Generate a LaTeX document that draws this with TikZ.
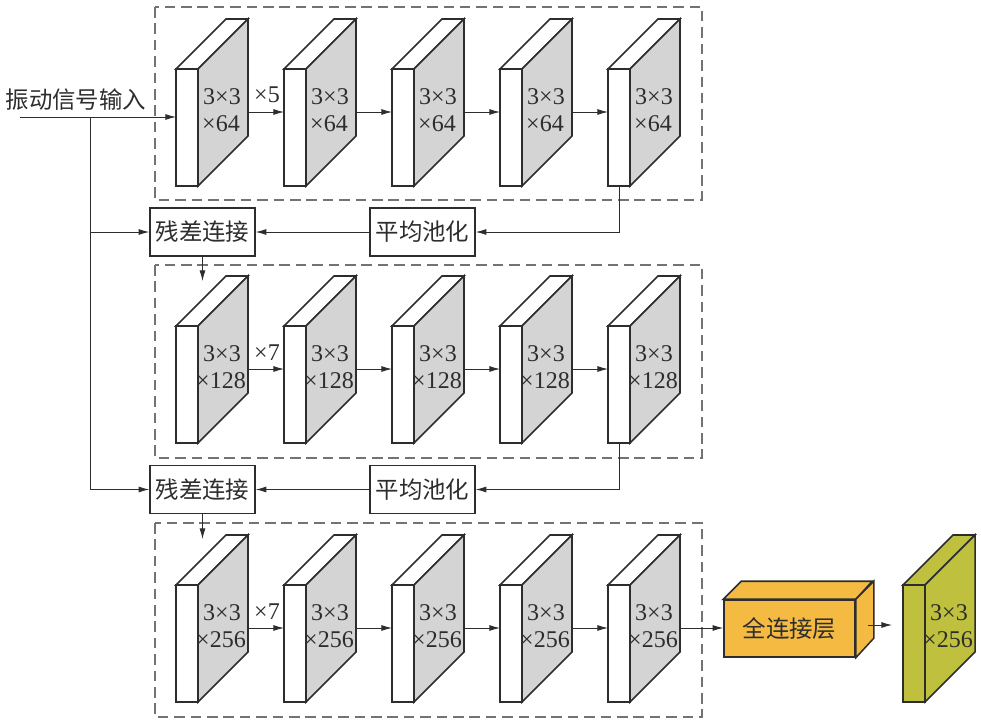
\documentclass[tikz,border=0pt]{standalone}
\usepackage{fontspec}
\setmainfont{Liberation Serif}
\newfontfamily\cjk{Noto Sans CJK SC}
\usepackage{xcolor}
\usetikzlibrary{positioning,arrows.meta,calc}

\definecolor{facegray}{RGB}{212,212,212}
\definecolor{fcorange}{RGB}{245,186,66}
\definecolor{outgreen}{RGB}{190,192,62}
\definecolor{inkline}{RGB}{45,45,45}
\definecolor{dashgray}{RGB}{115,115,115}

\tikzset{
  slabline/.style={draw=inkline, line width=1.3pt, line join=miter},
  slabtop/.style={fill=white},
  slabside/.style={fill=facegray},
  slabfront/.style={slabline, slabtop, rectangle, minimum width=0.66cm, minimum height=3.51cm, inner sep=0pt, outer sep=0pt},
  slabtext/.style={inner sep=0pt, text=inkline, font=\fontsize{20.5}{23}\selectfont},
  flow/.style={draw=inkline, line width=0.7pt, -{Latex[length=9pt,width=5pt]}},
  wire/.style={draw=inkline, line width=0.7pt},
  opbox/.style={draw=inkline, line width=1.3pt, fill=white, minimum width=3.15cm, minimum height=1.44cm, inner sep=0pt, text=inkline, font=\cjk\fontsize{20}{22}\selectfont},
  fcbox/.style={opbox, fill=fcorange, minimum width=3.93cm, minimum height=1.71cm},
  stage/.style={draw=dashgray, line width=0.9pt, dash pattern=on 9pt off 5pt},
}

% one conv slab: name, left x, top y, two text lines
\newcommand{\convslab}[5]{%
  \node[slabfront, anchor=north west] (#1) at (#2,#3) {};
  \draw[slabline, slabtop] (#1.north west) -- ++(50,-50) -- ++(22,0) -- (#1.north east) -- cycle;
  \draw[slabline, slabside] (#1.north east) -- ++(50,-50) -- ++(0,117) -- (#1.south east) -- cycle;
  \node[slabtext] (#1-a) at ($(#1.north east)+(24,28)$) {#4};
  \node[slabtext] (#1-b) at ($(#1.north east)+(23,55)$) {#5};
  \coordinate (#1-in) at ($(#1.north west)+(0,43)$);
  \coordinate (#1-out) at ($(#1.north east)+(50,43)$);
}

\begin{document}
\begin{tikzpicture}[x=0.03cm, y=-0.03cm]
\useasboundingbox (0,0) rectangle (981,723);

% dashed stages
\draw[stage] (155,7) rectangle (702,200);
\draw[stage] (155,265) rectangle (702,458);
\draw[stage] (155,523) rectangle (702,717);

% stage 1
\convslab{c11}{176}{69}{3×3}{×64}
\convslab{c12}{284}{69}{3×3}{×64}
\convslab{c13}{392}{69}{3×3}{×64}
\convslab{c14}{500}{69}{3×3}{×64}
\convslab{c15}{608}{69}{3×3}{×64}
\draw[flow] (c11-out) -- (c12-in);
\draw[flow] (c12-out) -- (c13-in);
\draw[flow] (c13-out) -- (c14-in);
\draw[flow] (c14-out) -- (c15-in);
\node[slabtext] (rep1) at (267,95) {×5};

% stage 2
\convslab{c21}{176}{326}{3×3}{×128}
\convslab{c22}{284}{326}{3×3}{×128}
\convslab{c23}{392}{326}{3×3}{×128}
\convslab{c24}{500}{326}{3×3}{×128}
\convslab{c25}{608}{326}{3×3}{×128}
\draw[flow] (c21-out) -- (c22-in);
\draw[flow] (c22-out) -- (c23-in);
\draw[flow] (c23-out) -- (c24-in);
\draw[flow] (c24-out) -- (c25-in);
\node[slabtext] (rep2) at (267,353) {×7};

% stage 3
\convslab{c31}{176}{585}{3×3}{×256}
\convslab{c32}{284}{585}{3×3}{×256}
\convslab{c33}{392}{585}{3×3}{×256}
\convslab{c34}{500}{585}{3×3}{×256}
\convslab{c35}{608}{585}{3×3}{×256}
\draw[flow] (c31-out) -- (c32-in);
\draw[flow] (c32-out) -- (c33-in);
\draw[flow] (c33-out) -- (c34-in);
\draw[flow] (c34-out) -- (c35-in);
\node[slabtext] (rep3) at (267,612) {×7};

% input and shortcut
\node[inner sep=0pt, text=inkline, font=\cjk\fontsize{20}{22}\selectfont] (sig) at (76,100) {振动信号输入};
\coordinate (sig-start) at (20,117);
\coordinate (split) at (90,117);
\draw[flow] (sig-start) -- (c11.west |- sig-start);

\node[opbox] (res1) at (202.5,232) {残差连接};
\node[opbox] (pool1) at (422.5,232) {平均池化};
\node[opbox] (res2) at (202.5,489.5) {残差连接};
\node[opbox] (pool2) at (422.5,489.5) {平均池化};
\coordinate (res1-down) at (202.5,281);
\coordinate (res2-down) at (202.5,539);

\draw[wire] (split) -- (split |- res2);
\draw[flow] (split |- res1) -- (res1);
\draw[flow] (split |- res2) -- (res2);
\draw[flow] (c15.south) |- (pool1);
\draw[flow] (c25.south) |- (pool2);
\draw[flow] (pool1) -- (res1);
\draw[flow] (pool2) -- (res2);
\draw[flow] (res1) -- (res1-down);
\draw[flow] (res2) -- (res2-down);

% fully connected + output
\node[fcbox] (fc) at (789.5,628.5) {全连接层};
\draw[slabline, fill=fcorange] (fc.north west) -- ++(18,-18) -- ++(131,0) -- (fc.north east) -- cycle;
\draw[slabline, fill=fcorange] (fc.north east) -- ++(18,-18) -- ++(0,57) -- (fc.south east) -- cycle;
\draw[flow] (c35-out) -- (fc.west |- c35-out);

\begin{scope}[slabtop/.style={fill=outgreen}, slabside/.style={fill=outgreen}]
\convslab{out}{903}{585}{3×3}{×256}
\end{scope}
\coordinate (fc-out) at (868,625);
\draw[flow, shorten >=0.33cm] (fc-out) -- (out.west |- fc-out);
\end{tikzpicture}
\end{document}
